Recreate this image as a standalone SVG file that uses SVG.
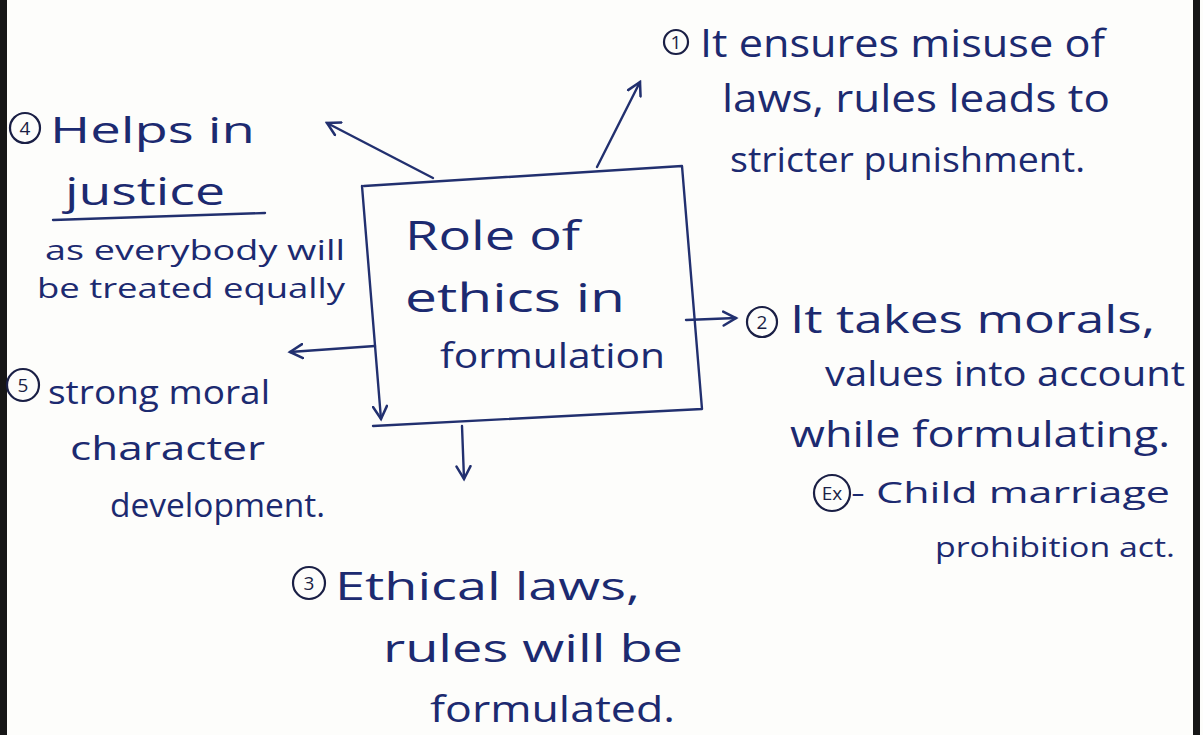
<svg xmlns="http://www.w3.org/2000/svg" width="1203" height="735" viewBox="0 0 1203 735">
  <defs>
    <marker id="head" viewBox="0 0 12 12" refX="10" refY="6" markerWidth="7" markerHeight="7" markerUnits="strokeWidth" orient="auto">
      <path d="M1,1 L10,6 L1,11" fill="none" stroke="#22306f" stroke-width="1.8" stroke-linecap="round"/>
    </marker>
  </defs>
  <style>
    .ink { fill: #1c2a70; font-family: "Open Sans", "DejaVu Sans", sans-serif; }
    .num { fill: #1a1f45; font-family: "Open Sans", "DejaVu Sans", sans-serif; font-size: 19px; text-anchor: middle; }
    .ring { fill: none; stroke: #1a1f45; stroke-width: 2.2; }
    .line { fill: none; stroke: #22306f; stroke-width: 2.4; stroke-linecap: round; stroke-linejoin: round; }
  </style>

  <!-- paper -->
  <rect x="0" y="0" width="1203" height="735" fill="#fdfdfb"/>
  <rect x="0" y="0" width="7" height="735" fill="#161616"/>
  <rect x="1193" y="0" width="7" height="735" fill="#161616"/>

  <!-- central box -->
  <g id="center">
    <path class="line" d="M364,186 L682,166 L702,409 L373,426"/>
    <text class="ink" x="405" y="250" font-size="40" textLength="175" lengthAdjust="spacingAndGlyphs">Role of</text>
    <text class="ink" x="405" y="312" font-size="40" textLength="220" lengthAdjust="spacingAndGlyphs">ethics in</text>
    <text class="ink" x="440" y="368" font-size="34" textLength="225" lengthAdjust="spacingAndGlyphs">formulation</text>
  </g>

  <!-- connectors -->
  <g id="connectors">
    <path class="line" d="M362,186 L381,419" marker-end="url(#head)"/>
    <path class="line" d="M597,167 L640,82" marker-end="url(#head)"/>
    <path class="line" d="M433,178 L327,123" marker-end="url(#head)"/>
    <path class="line" d="M686,320 L736,318" marker-end="url(#head)"/>
    <path class="line" d="M375,346 L290,352" marker-end="url(#head)"/>
    <path class="line" d="M462,426 L464,479" marker-end="url(#head)"/>
  </g>

  <!-- point 1 -->
  <g id="point1">
    <circle class="ring" cx="676" cy="42" r="12"/>
    <text class="num" x="676" y="49" font-size="17">1</text>
    <text class="ink" x="700" y="57" font-size="38" textLength="405" lengthAdjust="spacingAndGlyphs">It ensures misuse of</text>
    <text class="ink" x="722" y="112" font-size="38" textLength="388" lengthAdjust="spacingAndGlyphs">laws, rules leads to</text>
    <text class="ink" x="730" y="172" font-size="34" textLength="355" lengthAdjust="spacingAndGlyphs">stricter punishment.</text>
  </g>

  <!-- point 2 -->
  <g id="point2">
    <circle class="ring" cx="762" cy="322" r="15"/>
    <text class="num" x="762" y="329">2</text>
    <text class="ink" x="790" y="333" font-size="38" textLength="365" lengthAdjust="spacingAndGlyphs">It takes morals,</text>
    <text class="ink" x="825" y="386" font-size="34" textLength="360" lengthAdjust="spacingAndGlyphs">values into account</text>
    <text class="ink" x="790" y="447" font-size="36" textLength="380" lengthAdjust="spacingAndGlyphs">while formulating.</text>
  </g>

  <!-- example -->
  <g id="example">
    <circle class="ring" cx="832" cy="493" r="18"/>
    <text class="num" x="832" y="500">Ex</text>
    <text class="ink" x="851" y="503" font-size="30" textLength="319" lengthAdjust="spacingAndGlyphs">- Child marriage</text>
    <text class="ink" x="935" y="557" font-size="28" textLength="240" lengthAdjust="spacingAndGlyphs">prohibition act.</text>
  </g>

  <!-- point 3 -->
  <g id="point3">
    <circle class="ring" cx="309" cy="583" r="16"/>
    <text class="num" x="309" y="590">3</text>
    <text class="ink" x="335" y="600" font-size="38" textLength="305" lengthAdjust="spacingAndGlyphs">Ethical laws,</text>
    <text class="ink" x="383" y="662" font-size="38" textLength="300" lengthAdjust="spacingAndGlyphs">rules will be</text>
    <text class="ink" x="430" y="722" font-size="36" textLength="245" lengthAdjust="spacingAndGlyphs">formulated.</text>
  </g>

  <!-- point 4 -->
  <g id="point4">
    <circle class="ring" cx="25" cy="128" r="15"/>
    <text class="num" x="25" y="135">4</text>
    <text class="ink" x="50" y="143" font-size="36" textLength="205" lengthAdjust="spacingAndGlyphs">Helps in</text>
    <text class="ink" x="65" y="205" font-size="38" textLength="160" lengthAdjust="spacingAndGlyphs">justice</text>
    <path class="line" d="M53,220 L265,213"/>
    <text class="ink" x="45" y="260" font-size="28" textLength="300" lengthAdjust="spacingAndGlyphs">as everybody will</text>
    <text class="ink" x="37" y="298" font-size="28" textLength="308" lengthAdjust="spacingAndGlyphs">be treated equally</text>
  </g>

  <!-- point 5 -->
  <g id="point5">
    <circle class="ring" cx="23" cy="385" r="16"/>
    <text class="num" x="23" y="392">5</text>
    <text class="ink" x="48" y="404" font-size="32" textLength="222" lengthAdjust="spacingAndGlyphs">strong moral</text>
    <text class="ink" x="70" y="460" font-size="32" textLength="195" lengthAdjust="spacingAndGlyphs">character</text>
    <text class="ink" x="110" y="517" font-size="32" textLength="215" lengthAdjust="spacingAndGlyphs">development.</text>
  </g>
</svg>
